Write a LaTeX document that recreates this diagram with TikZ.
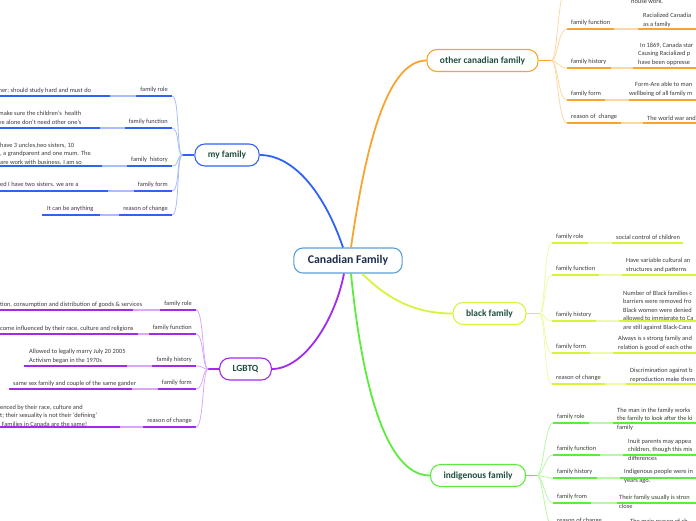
\documentclass[tikz,border=0pt]{standalone}
\usepackage{fontspec}
\setmainfont{Carlito}
\usepackage{tikz}
\usetikzlibrary{positioning,calc}

\definecolor{cblue}{HTML}{2F62F5}
\definecolor{cbluel}{HTML}{A8BEFA}
\definecolor{cpurp}{HTML}{A02AF0}
\definecolor{cpurpl}{HTML}{D9A8F9}
\definecolor{corng}{HTML}{F8A431}
\definecolor{corngl}{HTML}{FCD8A4}
\definecolor{cyell}{HTML}{D6F53A}
\definecolor{cyelll}{HTML}{EDFAA8}
\definecolor{cgrn}{HTML}{5DEB3E}
\definecolor{cgrnl}{HTML}{B8F6A8}
\definecolor{ccentre}{HTML}{5A9FD6}
\definecolor{topictext}{HTML}{1E4D3E}
\definecolor{centretext}{HTML}{1B2D4F}
\definecolor{subtext}{HTML}{3A3A3A}

\tikzset{
  centre/.style={draw=ccentre, line width=1.1pt, rounded corners=9pt, fill=white,
    text=centretext, font=\bfseries\fontsize{11.8}{13}\selectfont,
    minimum height=25pt, inner xsep=14pt},
  topic/.style={draw=#1, line width=1.1pt, rounded corners=10pt, fill=white,
    text=topictext, font=\bfseries\fontsize{9.4}{11}\selectfont,
    minimum height=22pt, inner xsep=13pt},
  lbl/.style={font=\fontsize{6.4}{8.5}\selectfont, text=subtext, inner xsep=4pt,
    inner ysep=2.5pt, text height=4.6pt, text depth=1.5pt},
  dsc/.style={font=\fontsize{6.4}{8.5}\selectfont, text=subtext, inner sep=0pt, align=left},
  branch/.style={line width=1.8pt},
  dk/.style={line width=1.6pt},
  lt/.style={line width=1.6pt},
  twig/.style={line width=0.8pt}
}

\begin{document}
\begin{tikzpicture}[x=1pt, y=-1pt]
\useasboundingbox (0,0) rectangle (696,520);
\clip (0,0) rectangle (696,520);

% main topics
\node [centre] (centre) at (348,260.5) {Canadian Family};
\node [topic=cblue] (my) at (227,155) {my family};
\node [topic=cpurp] (lg) at (245.5,369) {LGBTQ};
\node [topic=corng] (oc) at (482.5,60.5) {other canadian family};
\node [topic=cyell] (bf) at (489.5,313.5) {black family};
\node [topic=cgrn] (ind) at (478,475.5) {indigenous family};

\draw [branch, cblue] ($(centre.north)+(-5,0)$) .. controls ($(centre.north)+(-23,-53)$) and ($(my.east)+(35,0)$) .. (my.east);
\draw [branch, corng] ($(centre.north)+(3,0)$) .. controls ($(centre.north)+(17,-98)$) and ($(oc.west)+(-40,0)$) .. (oc.west);
\draw [branch, cpurp] ($(centre.south)+(-4,0)$) .. controls ($(centre.south)+(-13,47)$) and ($(lg.east)+(32,0)$) .. (lg.east);
\draw [branch, cyell] ($(centre.south)+(14,0)$) .. controls ($(centre.south)+(44,30)$) and ($(bf.west)+(-32,0)$) .. (bf.west);
\draw [branch, cgrn] ($(centre.south)+(3,0)$) .. controls ($(centre.south)+(14,112)$) and ($(ind.west)+(-44,0)$) .. (ind.west);

% hubs
\coordinate (my-hub) at ($(my.west)+(-12,0)$);
\coordinate (lg-hub) at ($(lg.west)+(-11,0)$);
\coordinate (oc-hub) at ($(oc.east)+(13,0)$);
\coordinate (bf-hub) at ($(bf.east)+(13,0)$);
\coordinate (ind-hub) at ($(ind.east)+(11,0)$);
\draw [branch, cblue] (my.west) -- (my-hub);
\draw [branch, cpurp] (lg.west) -- (lg-hub);
\draw [branch, corng] (oc.east) -- (oc-hub);
\draw [branch, cyell] (bf.east) -- (bf-hub);
\draw [branch, cgrn] (ind.east) -- (ind-hub);

% my family (\db = baseline of the last line)
\foreach \lbl/\y/\ds/\de/\dx/\db/\txt [count=\i] in {
  family role/96/-5/110/-1.5/92/{her; should study hard and must do},
  family function/128/-5/100/-1.5/124/{make sure the children's\ \ health\\ve alone don't need other one's},
  family\ \ history/166/-5/102/0/164/{have 3 uncles,two sisters, 10\\, a grandparent and one mum. The\\are work with business. I am so},
  family form/191/-5/108/0/186/{ed I have two sisters. we are a},
  reason of change/215/42/100/47/210/{It can be anything}}
{
  \node [lbl, anchor=south east] (my-\i) at (172,\y) {\lbl};
  \node [dsc, anchor=base west] (my-d\i) at (\dx,\db) {\txt};
  \coordinate (my-a\i) at (\ds,\y);
  \coordinate (my-b\i) at (\de,\y);
  \draw [twig, cbluel] (my-hub) .. controls ($(my-hub)+(-6,0)$) and ($(my-\i.south east)+(8,0)$) .. (my-\i.south east);
  \draw [dk, cblue] (my-\i.south west) -- (my-\i.south east);
  \draw [lt, cbluel] (my-b\i) -- (my-\i.south west);
  \draw [dk, cblue] (my-a\i) -- (my-b\i);
}

% LGBTQ
\foreach \lbl/\y/\ds/\de/\dx/\db/\txt [count=\i] in {
  family role/310/-5/133/0/306/{tion, consumption and distribution of goods \& services},
  family function/334/-5/138/0/330/{come influenced by their race, culture and religions},
  family history/366/24/127/29/362/{Allowed to legally marry July 20 2005\\Activism began in the 1970s},
  family form/389/9/132/13/385/{same sex family and couple of the same gander},
  reason of change/427/-5/120/0/426/{enced by their race, culture and\\t; their sexuality is not their ‘defining’\\\ Families in Canada are the same!}}
{
  \node [lbl, anchor=south east] (lg-\i) at (196,\y) {\lbl};
  \node [dsc, anchor=base west] (lg-d\i) at (\dx,\db) {\txt};
  \coordinate (lg-a\i) at (\ds,\y);
  \coordinate (lg-b\i) at (\de,\y);
  \draw [twig, cpurpl] (lg-hub) .. controls ($(lg-hub)+(-6,0)$) and ($(lg-\i.south east)+(8,0)$) .. (lg-\i.south east);
  \draw [dk, cpurp] (lg-\i.south west) -- (lg-\i.south east);
  \draw [lt, cpurpl] (lg-b\i) -- (lg-\i.south west);
  \draw [dk, cpurp] (lg-a\i) -- (lg-b\i);
}

% other canadian family
\coordinate (oc-top) at (567,-14);
\draw [twig, corngl] (oc-hub) .. controls ($(oc-hub)+(6,0)$) and ($(oc-top)+(-9,0)$) .. (oc-top);
\node [dsc, anchor=base west] (oc-d0) at (631,3.5) {house work.};
\foreach \lbl/\y/\ds/\de/\dx/\db/\txt [count=\i] in {
  family function/29/638/700/643/26/{Racialized Canadia\\as a family},
  family history/68/633/700/638/64/{\hspace*{2pt}In 1869, Canada star\\Causing Racialized p\\have been oppresse},
  family form/100/629/700/629/95/{\hspace*{6pt}Form-Are able to man\\wellbeing of all family m},
  reason of\ \ change/123/643/700/647/120/{The world war and}}
{
  \node [lbl, anchor=south west] (oc-\i) at (567,\y) {\lbl};
  \node [dsc, anchor=base west] (oc-d\i) at (\dx,\db) {\txt};
  \coordinate (oc-a\i) at (\ds,\y);
  \coordinate (oc-b\i) at (\de,\y);
  \draw [twig, corngl] (oc-hub) .. controls ($(oc-hub)+(6,0)$) and ($(oc-\i.south west)+(-9,0)$) .. (oc-\i.south west);
  \draw [dk, corng] (oc-\i.south west) -- (oc-\i.south east);
  \draw [lt, corngl] (oc-\i.south east) -- (oc-a\i);
  \draw [dk, corng] (oc-a\i) -- (oc-b\i);
}

% black family
\foreach \lbl/\y/\ds/\de/\dx/\db/\txt [count=\i] in {
  family role/243/612/683/616/239/{social control of children},
  family function/275/622/700/626/271/{Have variable cultural an\\structures and patterns},
  family history/321/619/700/623/329/{Number of Black families c\\barriers were removed fro\\Black women were denied\\allowed to immigrate to Ca\\are still against Black-Cana},
  family form/353/613/700/618/349/{Always is s strong family and\\relation is good of each othe},
  reason of change/384/626/700/630/381/{Discrimination against b\\reproduction make them}}
{
  \node [lbl, anchor=south west] (bf-\i) at (552,\y) {\lbl};
  \node [dsc, anchor=base west] (bf-d\i) at (\dx,\db) {\txt};
  \coordinate (bf-a\i) at (\ds,\y);
  \coordinate (bf-b\i) at (\de,\y);
  \draw [twig, cyelll] (bf-hub) .. controls ($(bf-hub)+(6,0)$) and ($(bf-\i.south west)+(-8,0)$) .. (bf-\i.south west);
  \draw [dk, cyell] (bf-\i.south west) -- (bf-\i.south east);
  \draw [lt, cyelll] (bf-\i.south east) -- (bf-a\i);
  \draw [dk, cyell] (bf-a\i) -- (bf-b\i);
}

% indigenous family
\foreach \lbl/\y/\ds/\de/\dx/\db/\txt [count=\i] in {
  family role/423/613/700/617/429/{The man in the family works\\the family to look after the ki\\family},
  family function/455/623/700/628/460/{Inuit parents may appea\\children, though this mis\\differences},
  family history/478/620/700/624/482/{Indigenous people were in\\years ago.},
  family from/503/617/700/619/508/{Their family usually is stron\\close},
  reason of change/527/626/700/630/523/{The main reason of ch}}
{
  \node [lbl, anchor=south west] (ind-\i) at (553,\y) {\lbl};
  \node [dsc, anchor=base west] (ind-d\i) at (\dx,\db) {\txt};
  \coordinate (ind-a\i) at (\ds,\y);
  \coordinate (ind-b\i) at (\de,\y);
  \draw [twig, cgrnl] (ind-hub) .. controls ($(ind-hub)+(6,0)$) and ($(ind-\i.south west)+(-8,0)$) .. (ind-\i.south west);
  \draw [dk, cgrn] (ind-\i.south west) -- (ind-\i.south east);
  \draw [lt, cgrnl] (ind-\i.south east) -- (ind-a\i);
  \draw [dk, cgrn] (ind-a\i) -- (ind-b\i);
}

\end{tikzpicture}
\end{document}
